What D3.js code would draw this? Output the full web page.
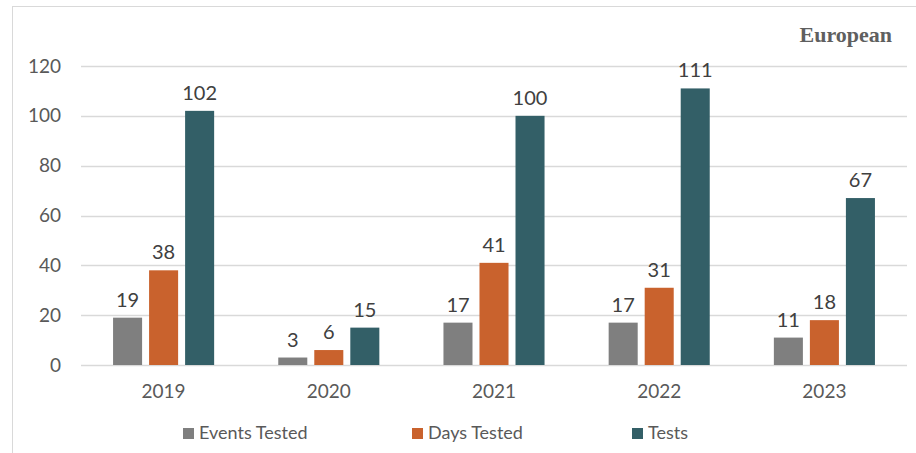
<!DOCTYPE html>
<html>
<head>
<meta charset="utf-8">
<script src="https://cdn.jsdelivr.net/npm/d3@7"></script>
<style>
  body { margin: 0; background: #fff; }
  text { font-family: "Century Gothic", "Lato", "DejaVu Sans", sans-serif; }
</style>
</head>
<body>
<div id="chart"></div>
<script>
const years = ['2019', '2020', '2021', '2022', '2023'];
const seriesNames = ['Events Tested', 'Days Tested', 'Tests'];
const eventsTested = [19, 3, 17, 17, 11];
const daysTested = [38, 6, 41, 31, 18];
const tests = [102, 15, 100, 111, 67];
const yTicks = [0, 20, 40, 60, 80, 100, 120];

const colors = ['#7f7f7f', '#c9622d', '#335f67'];
const seriesValues = [eventsTested, daysTested, tests];

const width = 916;
const height = 453;
const margin = { top: 66, right: 9, bottom: 88, left: 81 };

const svg = d3.select('#chart')
  .append('svg')
  .attr('width', width)
  .attr('height', height);

// frame
svg.append('line')
  .attr('x1', 12).attr('x2', width).attr('y1', 6.5).attr('y2', 6.5)
  .attr('stroke', '#d9d9d9');
svg.append('line')
  .attr('x1', 12.5).attr('x2', 12.5).attr('y1', 6).attr('y2', height)
  .attr('stroke', '#d9d9d9');

const x = d3.scaleBand()
  .domain(years)
  .range([margin.left, width - margin.right]);

const xInner = d3.scaleBand()
  .domain(seriesNames)
  .range([0, x.bandwidth()])
  .paddingInner(0.194)
  .paddingOuter(0.89);

const y = d3.scaleLinear()
  .domain([0, 120])
  .range([height - margin.bottom, margin.top]);

// gridlines
svg.append('g')
  .selectAll('line')
  .data(yTicks)
  .join('line')
  .attr('x1', margin.left)
  .attr('x2', width - margin.right)
  .attr('y1', (d) => Math.round(y(d)) + 0.5)
  .attr('y2', (d) => Math.round(y(d)) + 0.5)
  .attr('stroke', '#d9d9d9')
  .attr('stroke-width', 1.3);

// y labels
svg.append('g')
  .selectAll('text')
  .data(yTicks)
  .join('text')
  .attr('x', 61)
  .attr('y', (d) => y(d))
  .attr('dy', '0.35em')
  .attr('text-anchor', 'end')
  .attr('font-size', 19)
  .attr('fill', '#595959')
  .text((d) => d);

// x labels
svg.append('g')
  .selectAll('text')
  .data(years)
  .join('text')
  .attr('x', (d) => x(d) + x.bandwidth() / 2)
  .attr('y', 398)
  .attr('text-anchor', 'middle')
  .attr('font-size', 19)
  .attr('fill', '#595959')
  .text((d) => d);

// bars
const groups = svg.append('g')
  .selectAll('g')
  .data(seriesNames)
  .join('g')
  .attr('fill', (d, i) => colors[i]);

groups.each(function (name, si) {
  const g = d3.select(this);
  const vals = years.map((yr, i) => ({ yr, v: seriesValues[si][i] }));
  g.selectAll('rect')
    .data(vals)
    .join('rect')
    .attr('x', (d) => x(d.yr) + xInner(name))
    .attr('width', xInner.bandwidth())
    .attr('y', (d) => y(d.v))
    .attr('height', (d) => y(0) - y(d.v));
  g.selectAll('text')
    .data(vals)
    .join('text')
    .attr('x', (d) => x(d.yr) + xInner(name) + xInner.bandwidth() / 2)
    .attr('y', (d) => y(d.v) - 11)
    .attr('text-anchor', 'middle')
    .attr('font-size', 20)
    .attr('fill', '#404040')
    .text((d) => d.v);
});

// legend
const legendX = [183, 412, 632];
const legend = svg.append('g')
  .selectAll('g')
  .data(seriesNames)
  .join('g')
  .attr('transform', (d, i) => `translate(${legendX[i]}, 433)`);
legend.append('rect')
  .attr('x', 0).attr('y', -5)
  .attr('width', 11).attr('height', 11)
  .attr('fill', (d, i) => colors[i]);
legend.append('text')
  .attr('x', 16)
  .attr('dy', '0.35em')
  .attr('font-size', 18)
  .attr('fill', '#595959')
  .text((d) => d);

// title
svg.append('text')
  .attr('x', 892)
  .attr('y', 42)
  .attr('text-anchor', 'end')
  .style('font-family', '"Liberation Serif", "DejaVu Serif", serif')
  .attr('font-weight', 'bold')
  .attr('font-size', 22)
  .attr('fill', '#5f5f5f')
  .text('European');
</script>
</body>
</html>
